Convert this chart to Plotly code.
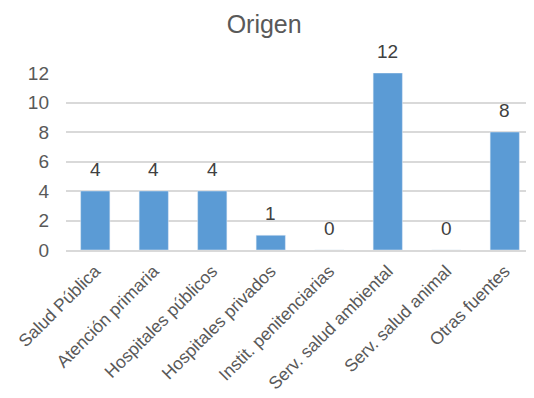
import plotly.graph_objects as go

categories = ["Salud Pública", "Atención primaria", "Hospitales públicos", "Hospitales privados",
              "Instit. penitenciarias", "Serv. salud ambiental", "Serv. salud animal", "Otras fuentes"]
values = [4, 4, 4, 1, 0, 12, 0, 8]
y_ticks = [0, 2, 4, 6, 8, 10, 12]

fig = go.Figure(go.Bar(
    x=categories, y=values,
    marker=dict(color="#5B9BD5"),
    showlegend=False,
))
for c, v in zip(categories, values):
    fig.add_annotation(x=c, y=v, text=str(v), showarrow=False, yanchor="bottom", yshift=9,
                       font=dict(size=19, color="#404040"))
fig.update_layout(
    width=526, height=390,
    margin=dict(l=58, r=0, t=65, b=148, autoexpand=False),
    paper_bgcolor="white", plot_bgcolor="white",
    font=dict(family="Liberation Sans, Arial, sans-serif", color="#595959"),
    title=dict(text="Origen", x=0.487, xanchor="center", y=0.959, yanchor="middle",
               font=dict(size=25, color="#595959")),
    bargap=0.5, showlegend=False,
)
fig.update_yaxes(range=[0, 12], tickvals=y_ticks, showgrid=True, gridcolor="#d9d9d9", gridwidth=2,
                 zeroline=False, tickfont=dict(size=19, color="#595959"), ticks="",
                 ticklabelstandoff=16, automargin=False)
fig.update_xaxes(tickangle=-45, tickfont=dict(size=17.5, color="#595959"), showline=True,
                 linecolor="#d9d9d9", linewidth=2, ticks="", ticklabelstandoff=2, automargin=False)
fig.write_html("out.html")
